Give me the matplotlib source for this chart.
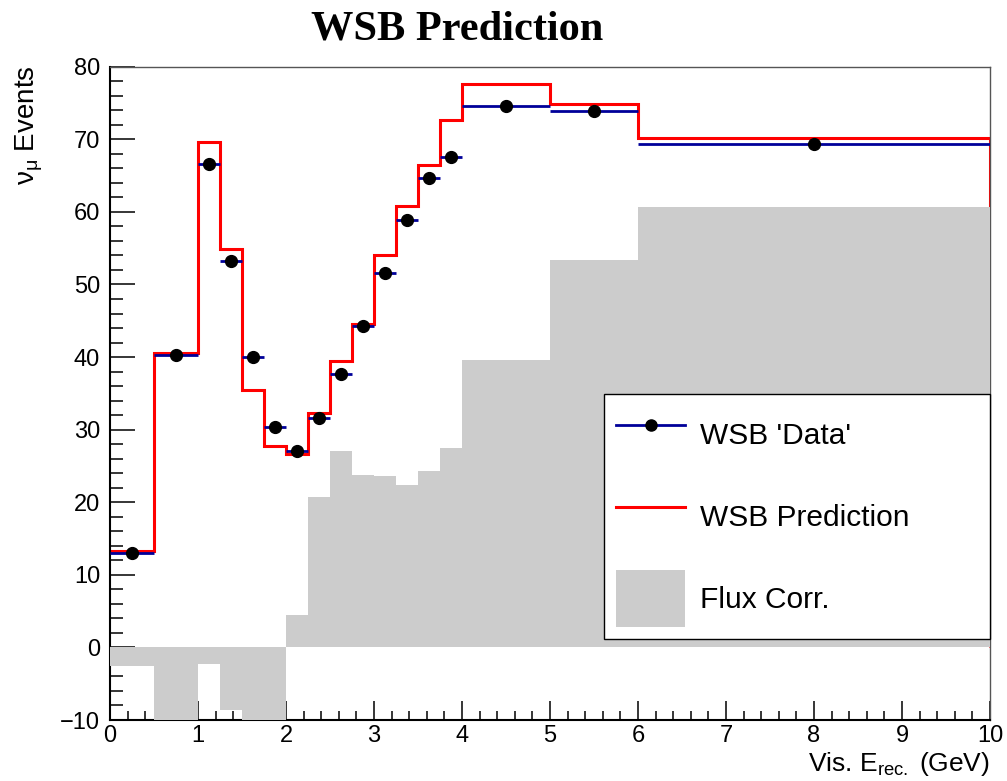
import numpy as np
import matplotlib.pyplot as plt
from matplotlib.lines import Line2D
from matplotlib.patches import Patch
from matplotlib.ticker import MultipleLocator

plt.rcParams['font.family'] = ['Liberation Sans', 'DejaVu Sans']
plt.rcParams['mathtext.fontset'] = 'custom'
plt.rcParams['mathtext.rm'] = 'Liberation Sans'
plt.rcParams['mathtext.it'] = 'Liberation Sans:italic'

# reconstructed energy binning (GeV)
edges = np.array([0, 0.5, 1, 1.25, 1.5, 1.75, 2, 2.25, 2.5, 2.75,
                  3, 3.25, 3.5, 3.75, 4, 5, 6, 10])

wsb_data = [13.0, 40.3, 66.6, 53.2, 40.0, 30.3, 27.0, 31.6, 37.7,
            44.3, 51.6, 58.9, 64.7, 67.6, 74.6, 73.9, 69.3]
wsb_pred = [13.35, 40.6, 69.6, 54.9, 35.4, 27.8, 26.6, 32.3, 39.4,
            44.6, 54.1, 60.8, 66.4, 72.7, 77.6, 74.9, 70.2]
flux_corr = [-2.5, -12.5, -2.3, -8.6, -11.5, -13.0, 4.5, 20.7, 27.1,
             23.8, 23.6, 22.4, 24.3, 27.5, 39.6, 53.4, 60.7]

centers = 0.5 * (edges[1:] + edges[:-1])
half_w = 0.5 * np.diff(edges)

fig = plt.figure(figsize=(10.07, 7.81), dpi=100)
ax = fig.add_axes([0.1092, 0.0781, 0.8739, 0.8365])

red = '#ff0000'
blue = '#000099'
grey = '#cccccc'

# prediction histogram (outline only, drops to zero at the upper edge)
ax.stairs(wsb_pred, edges, baseline=None, color=red, lw=2.2, zorder=2)
ax.vlines(edges[-1], 0, wsb_pred[-1], color=red, lw=2.2, zorder=2)

# flux correction, filled from zero
ax.stairs(flux_corr, edges, baseline=0, fill=True, color=grey, lw=0, zorder=3)

# "data" points with bin-width x errors
ax.errorbar(centers, wsb_data, xerr=half_w, fmt='o', ms=8.5, mfc='black',
            mec='black', ecolor=blue, elinewidth=2.0, capsize=0, zorder=4)

ax.set_xlim(0, 10)
ax.set_ylim(-10, 80)
ax.xaxis.set_major_locator(MultipleLocator(1))
ax.xaxis.set_minor_locator(MultipleLocator(0.2))
ax.yaxis.set_major_locator(MultipleLocator(10))
ax.yaxis.set_minor_locator(MultipleLocator(2))
ax.tick_params(axis='x', which='major', direction='in', length=13.4, width=1.1,
               labelsize=17, pad=3.5, top=False)
ax.tick_params(axis='x', which='minor', direction='in', length=6.7, width=1.1, top=False)
ax.tick_params(axis='y', which='major', direction='in', length=18, width=1.1,
               labelsize=17, pad=7, right=False)
ax.tick_params(axis='y', which='minor', direction='in', length=9.5, width=1.1, right=False)

for side in ['left', 'bottom']:
    ax.spines[side].set_linewidth(1.5)
    ax.spines[side].set_color('black')
for side in ['top', 'right']:
    ax.spines[side].set_linewidth(1.0)
    ax.spines[side].set_color('#555555')

handles = [
    Line2D([], [], color=blue, lw=2.0, marker='o', ms=8, mfc='black', mec='black'),
    Line2D([], [], color=red, lw=2.2),
    Patch(facecolor=grey, edgecolor='none'),
]
labels = ["WSB 'Data'", 'WSB Prediction', 'Flux Corr.']
leg = ax.legend(handles, labels, loc='lower left',
                bbox_to_anchor=(0.5617, 0.1235, 0.4383, 0.3755), mode='expand',
                borderaxespad=0, fontsize=21.5, frameon=True, fancybox=False,
                framealpha=1, edgecolor='black', handlelength=2.3, handleheight=2.6,
                handletextpad=0.52, labelspacing=0.8, borderpad=0.4)
leg.get_frame().set_linewidth(1.0)
leg.set_zorder(6)

fig.text(0.454, 0.9494, 'WSB Prediction', ha='center', va='baseline',
         fontsize=30.5, fontweight='bold', family=['Liberation Serif', 'DejaVu Serif'])
fig.text(0.0288, 0.9168, r'$\mathrm{\nu_{\mu}}$ Events', rotation=90,
         ha='center', va='top', fontsize=20)
fig.text(0.983, 1 - 770.7 / 781, r'Vis. E$_{\mathrm{rec.}}$ (GeV)',
         ha='right', va='baseline', fontsize=19)

fig.savefig('out.png', dpi=100)
